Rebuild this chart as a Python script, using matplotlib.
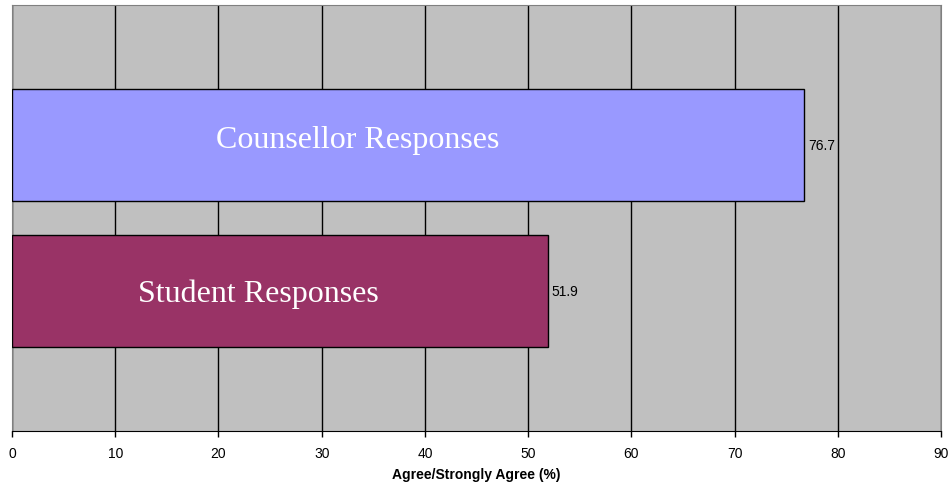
import matplotlib.pyplot as plt

groups = ['Student Responses', 'Counsellor Responses']
values = [51.9, 76.7]
colors = ['#993366', '#9999FF']
label_x = [23.9, 33.5]
label_dy = [-0.068, -0.014]
ticks = list(range(0, 100, 10))

fig = plt.figure(figsize=(9.5, 4.85), dpi=100)
ax = fig.add_axes([0.0126, 0.1093, 0.978, 0.8783])
ax.set_facecolor('#C0C0C0')

ypos = [0, 1]
ax.barh(ypos, values, height=0.767, color=colors, edgecolor='black', linewidth=1, zorder=3)

for y, v, name, lx, dy in zip(ypos, values, groups, label_x, label_dy):
    ax.text(v + 0.4, y, f'{v}', va='center', ha='left', fontsize=10, family='Liberation Sans', zorder=4)
    ax.text(lx, y + dy, name, va='baseline', ha='center', fontsize=23, color='white',
            family='Liberation Serif', zorder=4)

ax.set_xlim(0, 90)
ax.set_ylim(-0.959, 1.959)
ax.set_xticks(ticks)
ax.set_xticklabels([str(t) for t in ticks], fontsize=10, family='Liberation Sans')
ax.set_yticks([])
ax.xaxis.grid(True, color='black', linewidth=1, zorder=1)
ax.set_axisbelow(True)
ax.tick_params(axis='x', length=4, width=1, pad=7)

for s in ['left', 'top', 'right']:
    ax.spines[s].set_color('#808080')
ax.spines['bottom'].set_color('black')

ax.set_xlabel('Agree/Strongly Agree (%)', fontsize=10, fontweight='bold', family='Liberation Sans', labelpad=5)

fig.savefig('out.png', dpi=100)
